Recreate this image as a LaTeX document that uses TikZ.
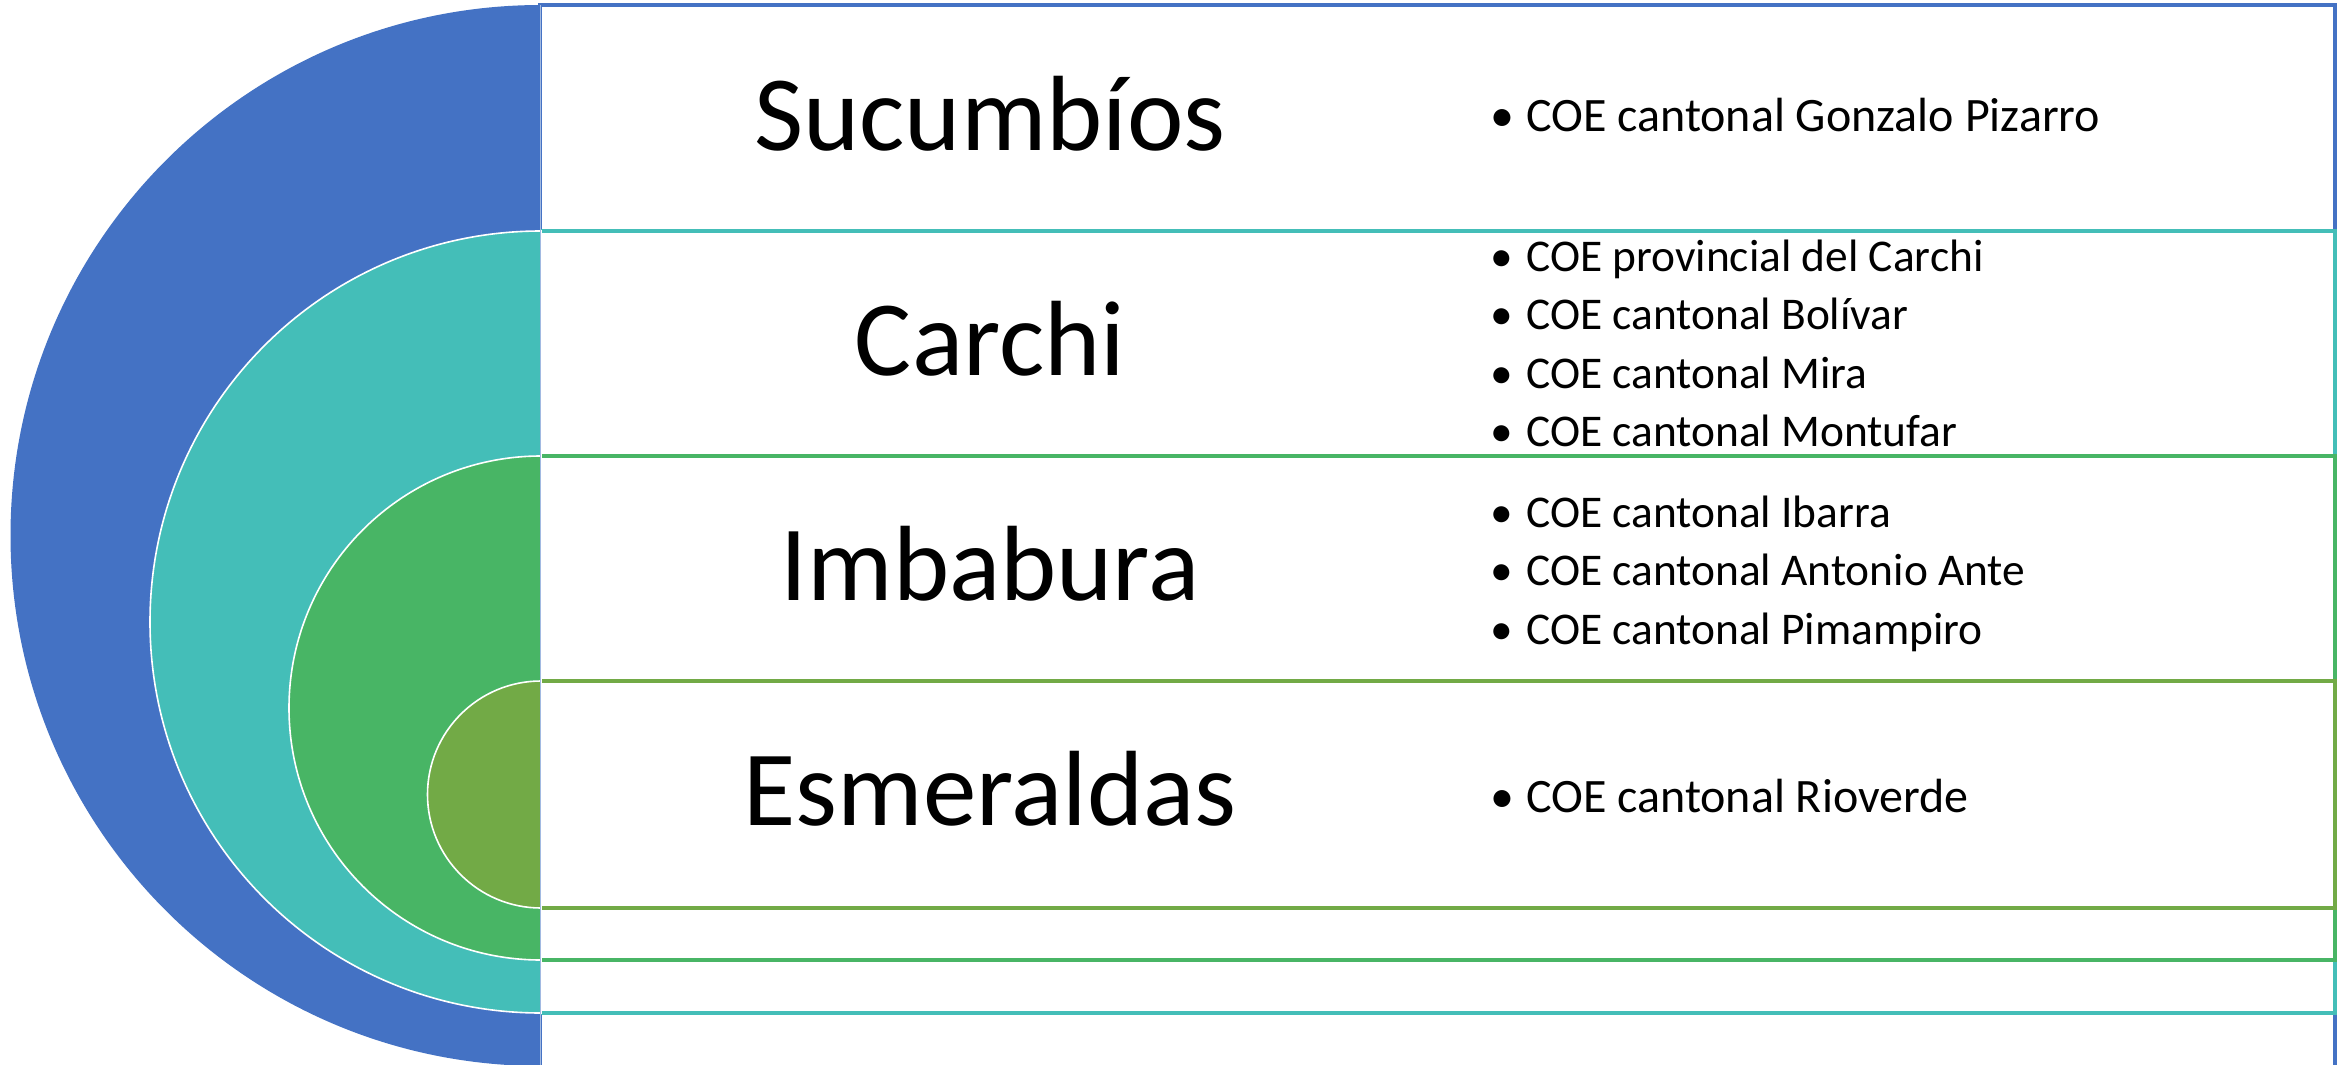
\documentclass[tikz,border=0pt]{standalone}
\usepackage{fontspec}
\setmainfont{Carlito}
\definecolor{cblue}{RGB}{68,114,196}
\definecolor{cteal}{RGB}{68,190,184}
\definecolor{cgreen}{RGB}{72,181,101}
\definecolor{colive}{RGB}{114,170,70}
\tikzset{
  band/.style={fill=white, line width=3.2pt},
  disc/.style={draw=white, line width=1.6pt},
  bigtext/.style={inner sep=0pt, anchor=base, font=\fontsize{107}{120}\selectfont},
  item/.style={inner sep=0pt, anchor=base west, font=\fontsize{48}{58}\selectfont},
  smallitem/.style={inner sep=0pt, anchor=base west, font=\fontsize{45.4}{55}\selectfont},
}
\newcommand{\itm}[1]{\makebox[36pt][l]{•}#1}
\begin{document}
\begin{tikzpicture}[x=1pt,y=1pt]
\useasboundingbox (0,0) rectangle (2346,-1065);
\clip (0,0) rectangle (2346,-1065);
\fill[white] (0,0) rectangle (2346,-1065);
% bands
\draw[band, draw=cblue] (540,-5) rectangle (2335,-1070);
\draw[band, draw=cteal] (540,-231) rectangle (2335,-1013);
\draw[band, draw=cgreen] (540,-456) rectangle (2335,-960);
\draw[band, draw=colive] (540,-681) rectangle (2335,-908);
% half discs
\fill[cblue] (541,-5) arc[start angle=90, end angle=270, radius=530.5pt] -- cycle;
\filldraw[disc, fill=cteal] (541,-231) arc[start angle=90, end angle=270, radius=391pt] -- cycle;
\filldraw[disc, fill=cgreen] (541,-456) arc[start angle=90, end angle=270, radius=252pt] -- cycle;
\filldraw[disc, fill=colive] (541,-681) arc[start angle=90, end angle=270, radius=113.5pt] -- cycle;
% light left edge of the bands
\draw[line width=1.2pt, cblue!50] (540.6,-5) -- (540.6,-1065);
% titles
\node[bigtext] (suc) at (990,-150) {Sucumbíos};
\node[bigtext] (car) at (990,-375) {Carchi};
\node[bigtext] (imb) at (990,-600) {Imbabura};
\node[bigtext] (esm) at (990,-825) {Esmeraldas};
% items
\node[item] (s1) at (1490,-131) {\itm{COE cantonal Gonzalo Pizarro}};
\node[smallitem] (c1) at (1490,-271) {\itm{COE provincial del Carchi}};
\node[smallitem] (c2) at (1490,-329.5) {\itm{COE cantonal Bolívar}};
\node[smallitem] (c3) at (1490,-388) {\itm{COE cantonal Mira}};
\node[smallitem] (c4) at (1490,-446.5) {\itm{COE cantonal Montufar}};
\node[smallitem] (i1) at (1490,-527) {\itm{COE cantonal Ibarra}};
\node[smallitem] (i2) at (1490,-585.5) {\itm{COE cantonal Antonio Ante}};
\node[smallitem] (i3) at (1490,-644) {\itm{COE cantonal Pimampiro}};
\node[item] (e1) at (1490,-812) {\itm{COE cantonal Rioverde}};
\end{tikzpicture}
\end{document}
